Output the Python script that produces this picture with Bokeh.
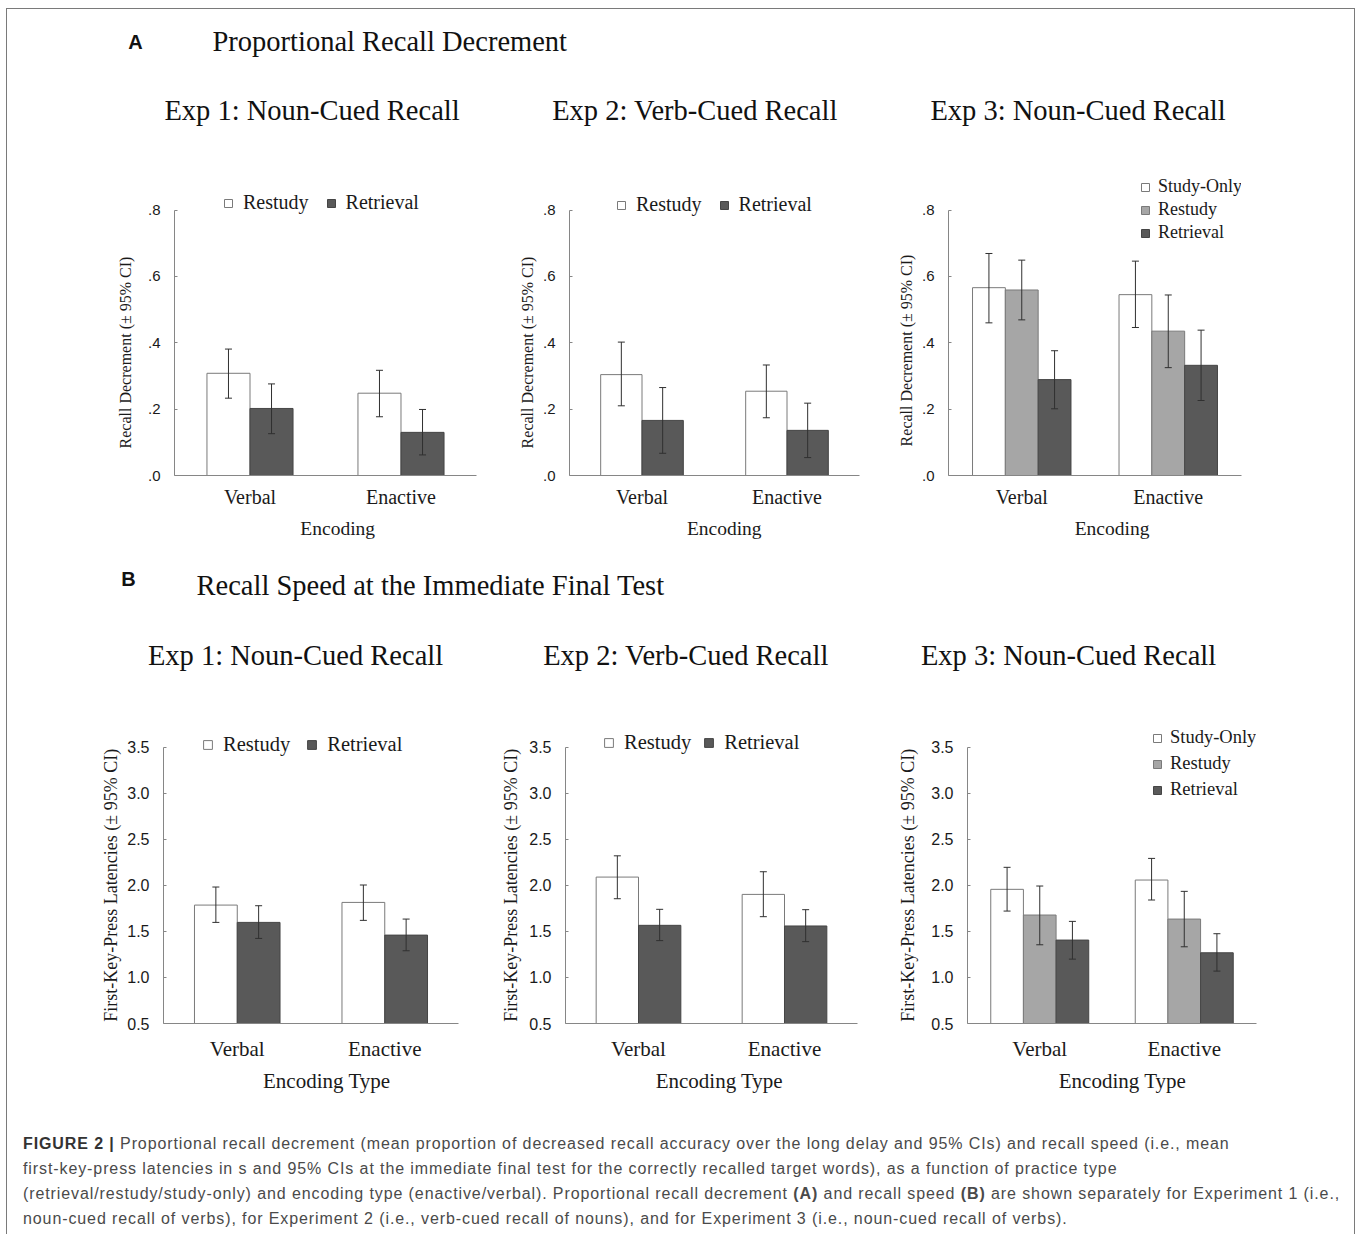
from bokeh.plotting import figure
from bokeh.models import (ColumnDataSource, FactorRange, Range1d, FixedTicker,
                          CategoricalAxis, Legend, LegendItem, Div, Spacer)
from bokeh.transform import dodge
from bokeh.layouts import column, row
from bokeh.core.properties import value
from bokeh.embed import file_html
from bokeh.resources import INLINE

SERIF = "Liberation Serif"
SANS = "Liberation Sans"

# ---------------- data ----------------
CATEGORIES = ["Verbal", "Enactive"]

A_TICKS = [0.0, 0.2, 0.4, 0.6, 0.8]
A_TICK_LABELS = [".0", ".2", ".4", ".6", ".8"]
B_TICKS = [0.5, 1.0, 1.5, 2.0, 2.5, 3.0, 3.5]
B_TICK_LABELS = ["0.5", "1.0", "1.5", "2.0", "2.5", "3.0", "3.5"]

SECTION_A = "Proportional Recall Decrement"
SECTION_B = "Recall Speed at the Immediate Final Test"
EXP_TITLES = ["Exp 1: Noun-Cued Recall", "Exp 2: Verb-Cued Recall", "Exp 3: Noun-Cued Recall"]
YLABEL_A = "Recall Decrement (± 95% CI)"
YLABEL_B = "First-Key-Press Latencies (± 95% CI)"
XLABEL_A = "Encoding"
XLABEL_B = "Encoding Type"

# Panel A, Exp 1
A1_RESTUDY = [0.308, 0.248]
A1_RESTUDY_LO = [0.233, 0.177]
A1_RESTUDY_HI = [0.381, 0.317]
A1_RETRIEVAL = [0.202, 0.130]
A1_RETRIEVAL_LO = [0.126, 0.062]
A1_RETRIEVAL_HI = [0.276, 0.199]
# Panel A, Exp 2
A2_RESTUDY = [0.304, 0.254]
A2_RESTUDY_LO = [0.210, 0.174]
A2_RESTUDY_HI = [0.402, 0.333]
A2_RETRIEVAL = [0.166, 0.136]
A2_RETRIEVAL_LO = [0.067, 0.054]
A2_RETRIEVAL_HI = [0.265, 0.218]
# Panel A, Exp 3
A3_STUDYONLY = [0.566, 0.545]
A3_STUDYONLY_LO = [0.460, 0.446]
A3_STUDYONLY_HI = [0.669, 0.646]
A3_RESTUDY = [0.559, 0.435]
A3_RESTUDY_LO = [0.469, 0.325]
A3_RESTUDY_HI = [0.649, 0.544]
A3_RETRIEVAL = [0.289, 0.332]
A3_RETRIEVAL_LO = [0.201, 0.226]
A3_RETRIEVAL_HI = [0.376, 0.438]
# Panel B, Exp 1
B1_RESTUDY = [1.786, 1.815]
B1_RESTUDY_LO = [1.598, 1.620]
B1_RESTUDY_HI = [1.982, 2.004]
B1_RETRIEVAL = [1.598, 1.460]
B1_RETRIEVAL_LO = [1.424, 1.290]
B1_RETRIEVAL_HI = [1.779, 1.634]
# Panel B, Exp 2
B2_RESTUDY = [2.090, 1.902]
B2_RESTUDY_LO = [1.855, 1.660]
B2_RESTUDY_HI = [2.321, 2.148]
B2_RETRIEVAL = [1.566, 1.559]
B2_RETRIEVAL_LO = [1.400, 1.389]
B2_RETRIEVAL_HI = [1.740, 1.736]
# Panel B, Exp 3
B3_STUDYONLY = [1.957, 2.058]
B3_STUDYONLY_LO = [1.721, 1.841]
B3_STUDYONLY_HI = [2.196, 2.293]
B3_RESTUDY = [1.678, 1.634]
B3_RESTUDY_LO = [1.355, 1.333]
B3_RESTUDY_HI = [1.993, 1.935]
B3_RETRIEVAL = [1.406, 1.268]
B3_RETRIEVAL_LO = [1.199, 1.069]
B3_RETRIEVAL_HI = [1.609, 1.475]

CAPTION_LINES = [
    "Proportional recall decrement (mean proportion of decreased recall accuracy over the long delay and 95% CIs) and recall speed (i.e., mean",
    "first-key-press latencies in s and 95% CIs at the immediate final test for the correctly recalled target words), as a function of practice type",
    "(retrieval/restudy/study-only) and encoding type (enactive/verbal). Proportional recall decrement <b>(A)</b> and recall speed <b>(B)</b> are shown separately for Experiment 1 (i.e.,",
    "noun-cued recall of verbs), for Experiment 2 (i.e., verb-cued recall of nouns), and for Experiment 3 (i.e., noun-cued recall of verbs).",
]

# ---------------- styles ----------------
AXIS = "#868686"
ERR = "#303030"
WHITE = ("#ffffff", "#7a7a7a")
MID = ("#a6a6a6", "#7a7a7a")
DARK = ("#595959", "#454545")
TOTAL_W = 1347
NBSP = "\u00a0"


def make_panel(width, height, left, right, top, bottom, y_end, ticks, tick_labels,
               series, bar_w, ylabel, ylabel_size, ylabel_standoff, ylabel_pad, tick_size,
               xlabel, xlabel_pad, cat_size, xlabel_size, cat_standoff, xlabel_standoff,
               legend_loc, legend_orient, legend_spacing, glyph, standoff, legend_size):
    p = figure(width=width, height=height,
               x_range=FactorRange(factors=CATEGORIES, range_padding=0),
               y_range=Range1d(ticks[0], y_end),
               x_axis_location=None, y_axis_location="left",
               output_backend="svg", toolbar_location=None,
               min_border_left=left, min_border_right=right,
               min_border_top=top, min_border_bottom=bottom)
    p.grid.visible = False
    p.outline_line_color = None
    p.background_fill_color = "white"
    p.border_fill_color = "white"

    # y axis (line stops at the top tick)
    ya = p.yaxis[0]
    ya.ticker = FixedTicker(ticks=ticks, minor_ticks=[])
    ya.major_label_overrides = dict(zip(ticks, tick_labels))
    ya.bounds = (ticks[0], ticks[-1])
    ya.axis_line_color = AXIS
    ya.major_tick_line_color = AXIS
    ya.major_tick_in = 3
    ya.major_tick_out = 0
    ya.minor_tick_line_color = None
    ya.major_label_standoff = 14
    ya.major_label_text_font = SANS
    ya.major_label_text_font_size = tick_size
    ya.major_label_text_color = "#1a1a1a"
    # trailing no-break spaces shift the label along the axis like the original
    ya.axis_label = ylabel + NBSP * ylabel_pad
    ya.axis_label_text_font = SERIF
    ya.axis_label_text_font_style = "normal"
    ya.axis_label_text_font_size = ylabel_size
    ya.axis_label_text_color = "#1a1a1a"
    ya.axis_label_standoff = ylabel_standoff

    # x axis with category labels
    cat = CategoricalAxis(axis_line_color=AXIS, major_tick_line_color=None,
                          minor_tick_line_color=None,
                          major_label_text_font=SERIF, major_label_text_font_size=cat_size,
                          major_label_text_color="#1a1a1a",
                          major_label_standoff=cat_standoff,
                          axis_label=NBSP * xlabel_pad + xlabel, axis_label_text_font=SERIF,
                          axis_label_text_font_style="normal",
                          axis_label_text_font_size=xlabel_size,
                          axis_label_text_color="#1a1a1a",
                          axis_label_standoff=xlabel_standoff)
    p.add_layout(cat, "below")

    n = len(series)
    items = []
    for i, (label, vals, lo, hi, colors) in enumerate(series):
        off = (i - (n - 1) / 2) * bar_w
        src = ColumnDataSource(dict(cat=CATEGORIES, top=vals, lo=lo, hi=hi))
        xd = dodge("cat", off, range=p.x_range)
        r = p.vbar(x=xd, top="top", bottom=ticks[0], width=bar_w, source=src,
                   fill_color=colors[0], line_color=colors[1], line_width=1)
        p.segment(x0=xd, y0="lo", x1=xd, y1="hi", source=src, line_color=ERR, line_width=1)
        p.scatter(x=xd, y="lo", marker="dash", size=7, source=src, line_color=ERR, line_width=1)
        p.scatter(x=xd, y="hi", marker="dash", size=7, source=src, line_color=ERR, line_width=1)
        items.append(LegendItem(label=label, renderers=[r]))

    leg = Legend(items=items, location=legend_loc, orientation=legend_orient,
                 background_fill_alpha=0, border_line_alpha=0, padding=0, margin=0,
                 spacing=legend_spacing, glyph_width=glyph, glyph_height=glyph,
                 label_standoff=standoff, label_text_font=SERIF,
                 label_text_font_size=legend_size, label_height=20,
                 label_text_color="#1a1a1a")
    p.add_layout(leg)
    return p


def make_header(h, texts):
    p = figure(width=TOTAL_W, height=h, x_range=Range1d(0, TOTAL_W), y_range=Range1d(h, 0),
               output_backend="svg", toolbar_location=None,
               x_axis_location=None, y_axis_location=None, min_border=0)
    p.grid.visible = False
    p.outline_line_color = None
    for (x, y, t, font, size, style, align) in texts:
        p.text(x=[x], y=[y], text=[t], text_font=value(font), text_font_size=size,
               text_font_style=style, text_align=align, text_baseline="middle",
               text_color="#111111")
    return p


# ---------------- panel A ----------------
YA_END = 0.898
pA1 = make_panel(498, 405, 167, 29, 27, 80, YA_END, A_TICKS, A_TICK_LABELS,
                 [("Restudy", A1_RESTUDY, A1_RESTUDY_LO, A1_RESTUDY_HI, WHITE),
                  ("Retrieval", A1_RETRIEVAL, A1_RETRIEVAL_LO, A1_RETRIEVAL_HI, DARK)],
                 0.285, YLABEL_A, "16px", 11, 13, "15px",
                 XLABEL_A, 5, "20px", "19.5px", 4, 7,
                 (49, 261), "horizontal", 17, 10, 10, "20px")
pA2 = make_panel(385, 405, 64, 31, 27, 80, YA_END, A_TICKS, A_TICK_LABELS,
                 [("Restudy", A2_RESTUDY, A2_RESTUDY_LO, A2_RESTUDY_HI, WHITE),
                  ("Retrieval", A2_RETRIEVAL, A2_RETRIEVAL_LO, A2_RETRIEVAL_HI, DARK)],
                 0.285, YLABEL_A, "16px", 4, 13, "15px",
                 XLABEL_A, 4, "20px", "19.5px", 4, 7,
                 (47, 259), "horizontal", 17, 10, 10, "20px")
pA3 = make_panel(464, 405, 58, 113, 27, 80, YA_END, A_TICKS, A_TICK_LABELS,
                 [("Study-Only", A3_STUDYONLY, A3_STUDYONLY_LO, A3_STUDYONLY_HI, WHITE),
                  ("Restudy", A3_RESTUDY, A3_RESTUDY_LO, A3_RESTUDY_HI, MID),
                  ("Retrieval", A3_RETRIEVAL, A3_RETRIEVAL_LO, A3_RETRIEVAL_HI, DARK)],
                 0.224, YLABEL_A, "16px", 4, 12, "15px",
                 XLABEL_A, 7, "20px", "19.5px", 4, 7,
                 (192, 232), "vertical", 2, 10, 8, "18px")

# ---------------- panel B ----------------
YB_END = 3.747
pB1 = make_panel(488, 410, 156, 37, 34, 77, YB_END, B_TICKS, B_TICK_LABELS,
                 [("Restudy", B1_RESTUDY, B1_RESTUDY_LO, B1_RESTUDY_HI, WHITE),
                  ("Retrieval", B1_RETRIEVAL, B1_RETRIEVAL_LO, B1_RETRIEVAL_HI, DARK)],
                 0.29, YLABEL_B, "18px", 3, 5, "16px",
                 XLABEL_B, 6, "21px", "21px", 7, 5,
                 (39, 267), "horizontal", 16, 11, 10, "20.5px")
pB2 = make_panel(400, 410, 70, 38, 34, 77, YB_END, B_TICKS, B_TICK_LABELS,
                 [("Restudy", B2_RESTUDY, B2_RESTUDY_LO, B2_RESTUDY_HI, WHITE),
                  ("Retrieval", B2_RETRIEVAL, B2_RETRIEVAL_LO, B2_RETRIEVAL_HI, DARK)],
                 0.29, YLABEL_B, "18px", 5, 5, "16px",
                 XLABEL_B, 3, "21px", "21px", 7, 5,
                 (38, 269), "horizontal", 12, 11, 10, "20.5px")
pB3 = make_panel(459, 410, 66, 98, 34, 77, YB_END, B_TICKS, B_TICK_LABELS,
                 [("Study-Only", B3_STUDYONLY, B3_STUDYONLY_LO, B3_STUDYONLY_HI, WHITE),
                  ("Restudy", B3_RESTUDY, B3_RESTUDY_LO, B3_RESTUDY_HI, MID),
                  ("Retrieval", B3_RETRIEVAL, B3_RETRIEVAL_LO, B3_RETRIEVAL_HI, DARK)],
                 0.226, YLABEL_B, "18px", 10, 5, "16px",
                 XLABEL_B, 4, "21px", "21px", 7, 5,
                 (185, 223), "vertical", 5, 10, 8, "18.5px")

# ---------------- headers ----------------
headA = make_header(141, [
    (128, 32, "A", SANS, "20px", "bold", "center"),
    (205, 32, SECTION_A, SERIF, "28.5px", "normal", "left"),
    (304.5, 101, EXP_TITLES[0], SERIF, "28.5px", "normal", "center"),
    (687.5, 101, EXP_TITLES[1], SERIF, "28.5px", "normal", "center"),
    (1070.5, 101, EXP_TITLES[2], SERIF, "28.5px", "normal", "center"),
])
headB = make_header(135, [
    (121, 23, "B", SANS, "20px", "bold", "center"),
    (189, 30, SECTION_B, SERIF, "28.5px", "normal", "left"),
    (288, 100, EXP_TITLES[0], SERIF, "28.5px", "normal", "center"),
    (678.5, 100, EXP_TITLES[1], SERIF, "28.5px", "normal", "center"),
    (1061, 100, EXP_TITLES[2], SERIF, "28.5px", "normal", "center"),
])

caption_html = (
    '<div style="padding:26px 0 0 11px; white-space:nowrap; font-family:\'Liberation Sans\', Arial, sans-serif; '
    'font-size:16px; letter-spacing:0.9px; line-height:25px; color:#4a4a4a;">'
    '<b style="color:#333333">FIGURE 2 |</b> ' + "<br>".join(CAPTION_LINES) + "</div>"
)
caption = Div(text=caption_html, width=TOTAL_W - 4, height=134,
              styles={"overflow": "hidden"})

inner = column(headA, row(pA1, pA2, pA3), headB, row(pB1, pB2, pB3), caption,
               width=TOTAL_W + 2,
               styles={"border-left": "1px solid #7a7a7a", "border-top": "1px solid #7a7a7a",
                       "border-right": "1px solid #7a7a7a", "background-color": "white"})

layout = column(Spacer(width=10, height=8), row(Spacer(width=6, height=10), inner))

open("out.html", "w").write(file_html(layout, INLINE, title="Figure 2"))
